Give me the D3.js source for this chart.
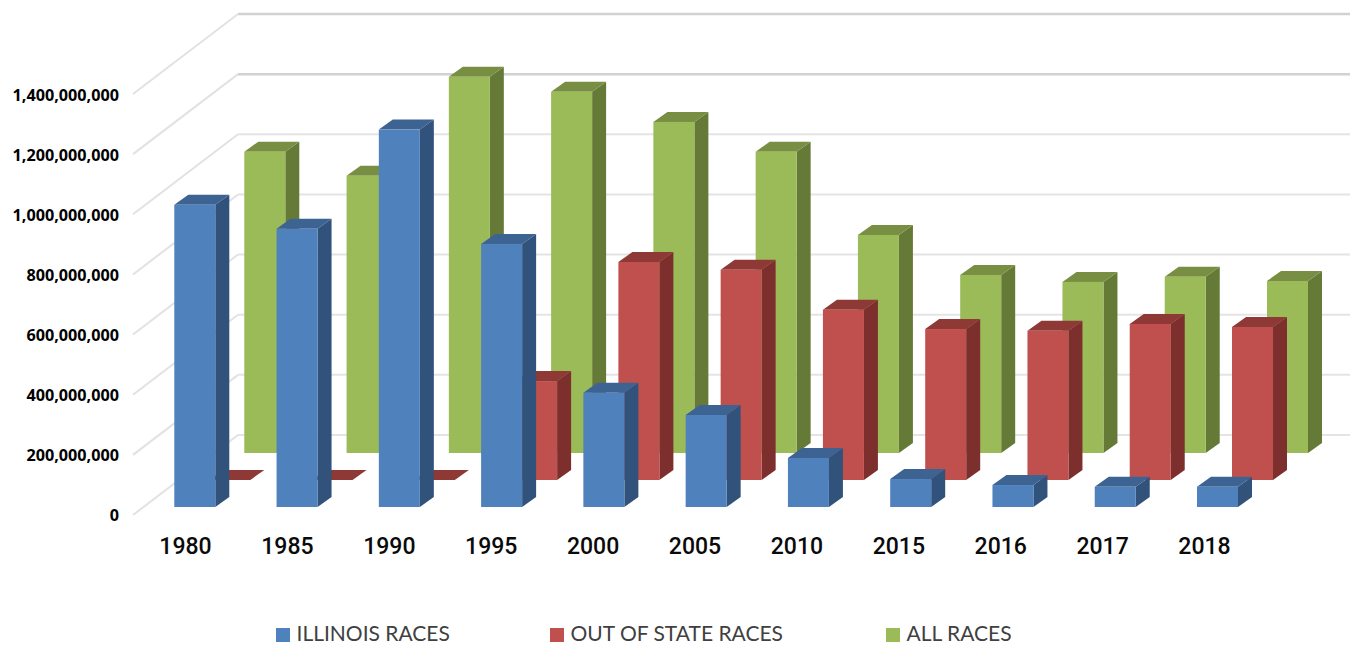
<!DOCTYPE html>
<html>
<head>
<meta charset="utf-8">
<script src="https://cdn.jsdelivr.net/npm/d3@7"></script>
<style>
	html, body { margin: 0; padding: 0; background: #fff; overflow: hidden; }
	svg { display: block; }
	.y-axis text { font-family: "Open Sans", sans-serif; font-size: 16.2px; font-weight: 700; fill: #000; }
	.x-axis text { font-family: Roboto, sans-serif; font-size: 23px; font-weight: 500; fill: #0a0a0a; }
	.legend text { font-family: Lato, sans-serif; font-size: 21px; fill: #404040; }
</style>
</head>
<body>
<svg id="chart" width="1350" height="645"></svg>
<script>
const years = ["1980", "1985", "1990", "1995", "2000", "2005", "2010", "2015", "2016", "2017", "2018"];
const illinoisRaces = [1005, 925, 1255, 875, 380, 306, 163, 93, 73, 67, 67].map(function(v) { return v * 1e6; });
const outOfStateRaces = [0, 0, 0, 329, 725, 699, 566, 502, 496, 519, 509].map(function(v) { return v * 1e6; });
const allRaces = [1002, 922, 1251, 1201, 1101, 1002, 725, 592, 569, 586, 572].map(function(v) { return v * 1e6; });
const yTicks = [0, 200e6, 400e6, 600e6, 800e6, 1000e6, 1200e6, 1400e6];
const seriesNames = ["ILLINOIS RACES", "OUT OF STATE RACES", "ALL RACES"];

var svg = d3.select("#chart");

// height of a value in pixels, same for every depth row
var h = d3.scaleLinear().domain([0, 1400e6]).range([0, 421]);
// left edge of the front row bars
var xBars = d3.scalePoint().domain(years).range([174.3, 1197]);
var xLabels = d3.scalePoint().domain(years).range([185, 1204]);

var barWidth = 41, sideDx = 14, sideDy = 10;

// depth rows: green at the back, blue at the front
var rows = [
	{ values: allRaces, dx: 70, base: 453, front: "#9BBB59", side: "#667A37", top: "#788F43" },
	{ values: outOfStateRaces, dx: 35, base: 480, front: "#C0504D", side: "#7D2F2E", top: "#8F3937" },
	{ values: illinoisRaces, dx: 0, base: 507, front: "#4F81BD", side: "#31527A", top: "#3D6392" }
];

//---------------------------------  walls  ---------------------------------------

var grid = svg.append("g").attr("fill", "none");
var wallX0 = 133, wallX1 = 238, wallRight = 1350, wallFront = 515, wallBack = 435;

yTicks.forEach(function(t) {
	var shift = h(t);
	grid.append("path")
		.attr("stroke", "#e2e2e2")
		.attr("stroke-width", 2)
		.attr("d", d3.line()([[wallX0, wallFront - shift], [wallX1, wallBack - shift]]));
	grid.append("path")
		.attr("stroke", t >= 1200e6 ? "#d2d2d2" : "#e4e4e4")
		.attr("stroke-width", t >= 1200e6 ? 2.5 : 2)
		.attr("d", d3.line()([[wallX1, wallBack - shift], [wallRight, wallBack - shift]]));
});

//---------------------------------  bars  ---------------------------------------

function poly(points) {
	return d3.line()(points) + "Z";
}

rows.forEach(function(row) {
	var bars = svg.append("g").selectAll("g")
		.data(row.values)
		.enter().append("g");

	function left(d, i) { return xBars(years[i]) + row.dx; }

	bars.append("path")
		.attr("fill", row.side)
		.attr("d", function(d, i) {
			var x = left(d, i) + barWidth, yTop = row.base - h(d);
			return poly([[x, row.base], [x + sideDx, row.base - sideDy], [x + sideDx, yTop - sideDy], [x, yTop]]);
		});

	bars.append("path")
		.attr("fill", row.top)
		.attr("d", function(d, i) {
			var x = left(d, i), yTop = row.base - h(d);
			return poly([[x, yTop], [x + sideDx, yTop - sideDy], [x + barWidth + sideDx, yTop - sideDy], [x + barWidth, yTop]]);
		});

	bars.append("rect")
		.attr("fill", row.front)
		.attr("x", left)
		.attr("y", function(d) { return row.base - h(d); })
		.attr("width", barWidth)
		.attr("height", function(d) { return h(d); });
});

//---------------------------------  axes  ---------------------------------------

var yAxisScale = d3.scaleLinear().domain([0, 1400e6]).range([515, 95]);

svg.append("g")
	.attr("class", "y-axis")
	.attr("transform", "translate(127,0)")
	.call(d3.axisLeft(yAxisScale).tickValues(yTicks).tickSize(0).tickPadding(8).tickFormat(d3.format(",")))
	.call(function(g) { g.select(".domain").remove(); });

svg.append("g")
	.attr("class", "x-axis")
	.attr("transform", "translate(0,533)")
	.call(d3.axisBottom(xLabels).tickSize(0).tickPadding(5))
	.call(function(g) { g.select(".domain").remove(); });

//---------------------------------  legend  ---------------------------------------

var legendX = [276, 550, 886];
var legendColors = [rows[2].front, rows[1].front, rows[0].front];

var legend = svg.append("g").attr("class", "legend")
	.selectAll("g")
	.data(seriesNames)
	.enter().append("g")
	.attr("transform", function(d, i) { return "translate(" + legendX[i] + ",628)"; });

legend.append("rect")
	.attr("width", 14)
	.attr("height", 14)
	.attr("fill", function(d, i) { return legendColors[i]; });

legend.append("text")
	.attr("x", 20.5)
	.attr("y", 12.5)
	.text(function(d) { return d; });
</script>
</body>
</html>
